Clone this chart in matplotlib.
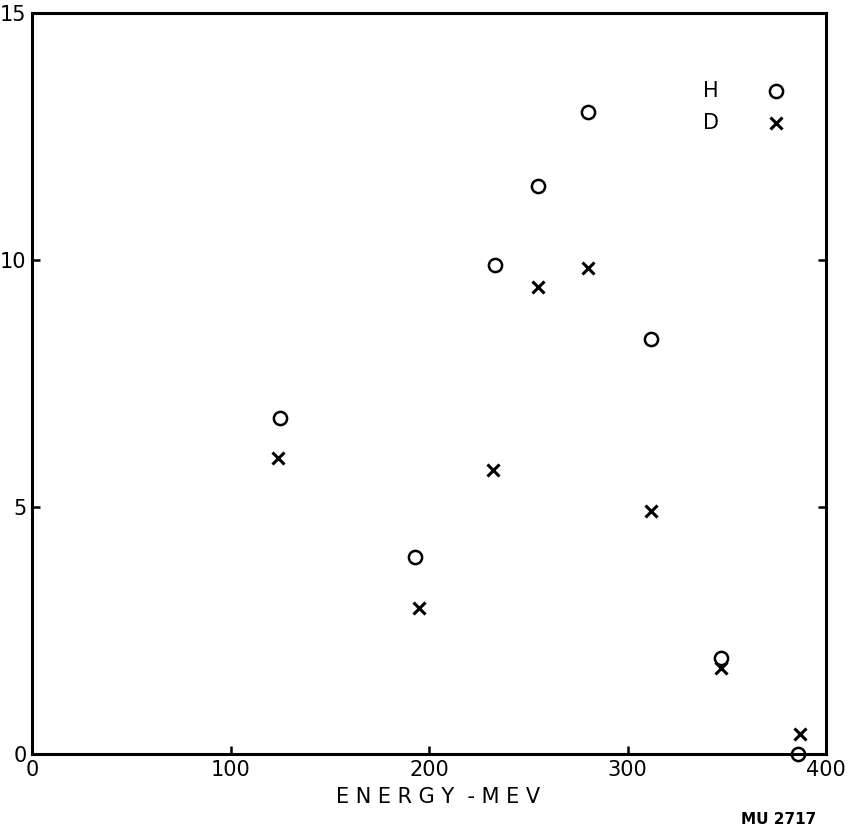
import matplotlib
matplotlib.use("Agg")
import matplotlib.pyplot as plt

# H (hydrogen) points, open circles
h_energy = [125, 193, 233, 255, 280, 312, 347, 386]
h_values = [6.8, 4.0, 9.9, 11.5, 13.0, 8.4, 1.95, 0.0]

# D (deuterium) points, crosses
d_energy = [124, 195, 232, 255, 280, 312, 347, 387]
d_values = [6.0, 2.95, 5.75, 9.45, 9.85, 4.92, 1.75, 0.4]

x_ticks = [0, 100, 200, 300, 400]
y_ticks = [0, 5, 10, 15]

fig = plt.figure(figsize=(8.56, 8.33), dpi=100)
ax = fig.add_axes([0.0374, 0.0948, 0.9276, 0.889])

ax.plot(h_energy, h_values, linestyle="none", marker="o", markersize=9.5,
        markerfacecolor="none", markeredgecolor="black", markeredgewidth=1.8,
        clip_on=False)
ax.plot(d_energy, d_values, linestyle="none", marker="x", markersize=8,
        color="black", markeredgewidth=2.2, clip_on=False)

ax.set_xlim(0, 400)
ax.set_ylim(0, 15)
ax.set_xticks(x_ticks)
ax.set_yticks(y_ticks)
ax.tick_params(direction="in", length=6, width=1.8, labelsize=15,
               right=True, top=False, pad=4)

for spine in ax.spines.values():
    spine.set_linewidth(2.2)
    spine.set_color("black")

# hand-lettered legend in the upper right
ax.text(0.855, 0.895, "H", transform=ax.transAxes, fontsize=15,
        ha="center", va="center")
ax.text(0.855, 0.852, "D", transform=ax.transAxes, fontsize=15,
        ha="center", va="center")
ax.plot([0.937], [0.895], transform=ax.transAxes, marker="o", markersize=9.5,
        markerfacecolor="none", markeredgecolor="black", markeredgewidth=1.8)
ax.plot([0.937], [0.852], transform=ax.transAxes, marker="x", markersize=8,
        color="black", markeredgewidth=2.2)

fig.text(0.512, 0.043, "E N E R G Y  - M E V", fontsize=15,
         ha="center", va="center")
fig.text(0.91, 0.016, "MU 2717", fontsize=11, fontweight="bold",
         ha="center", va="center")

fig.savefig("out.png", dpi=100, facecolor="white")
